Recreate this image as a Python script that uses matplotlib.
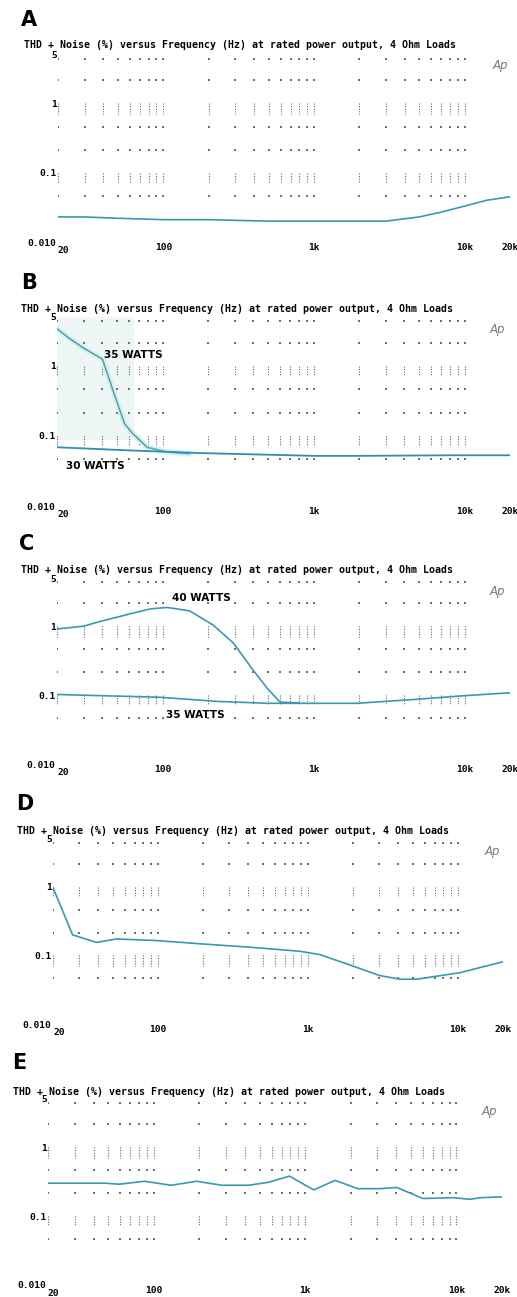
import matplotlib
matplotlib.use('Agg')
import matplotlib.pyplot as plt
import numpy as np

W, H = 517, 1297

title = "THD + Noise (%) versus Frequency (Hz) at rated power output, 4 Ohm Loads"

# curve data (Hz, % THD+N)
freq_a = [20, 30, 50, 100, 200, 500, 1000, 2000, 3000, 5000, 7000, 10000, 14000, 20000]
thd_a = [0.023, 0.023, 0.022, 0.021, 0.021, 0.020, 0.020, 0.020, 0.020, 0.023, 0.027, 0.033, 0.040, 0.045]

freq_b35 = [20, 24, 30, 40, 48, 56, 63, 79, 107, 150]
thd_b35 = [3.4, 2.5, 1.8, 1.25, 0.39, 0.15, 0.11, 0.069, 0.059, 0.056]
freq_b30 = [20, 63, 177, 500, 1000, 2000, 8000, 20000]
thd_b30 = [0.069, 0.062, 0.057, 0.054, 0.052, 0.052, 0.053, 0.053]

freq_c40 = [20, 30, 38, 64, 83, 107, 151, 216, 294, 398, 494, 600, 800]
thd_c40 = [0.91, 1.0, 1.16, 1.55, 1.78, 1.87, 1.67, 1.04, 0.57, 0.23, 0.125, 0.079, 0.077]
freq_c35 = [20, 96, 230, 494, 1000, 1940, 4860, 10000, 20000]
thd_c35 = [0.102, 0.093, 0.081, 0.076, 0.076, 0.076, 0.087, 0.098, 0.108]

freq_d = [20, 27, 39, 53, 98, 191, 410, 887, 1200, 2000, 3000, 4100, 5300, 10300, 20000]
thd_d = [0.98, 0.20, 0.155, 0.174, 0.165, 0.148, 0.132, 0.115, 0.103, 0.070, 0.051, 0.045, 0.045, 0.056, 0.081]

freq_e = [20, 31, 39, 48, 59, 87, 130, 192, 282, 423, 577, 787, 1140, 1580, 2230, 3130, 4040,
          6000, 9630, 12200, 14400, 20000]
thd_e = [0.30, 0.30, 0.30, 0.30, 0.29, 0.32, 0.28, 0.32, 0.28, 0.28, 0.31, 0.38, 0.24, 0.33, 0.25,
         0.25, 0.26, 0.18, 0.185, 0.175, 0.185, 0.19]

xticks = [20, 100, 1000, 10000, 20000]
xticklabels = ['20', '100', '1k', '10k', '20k']
yticks = [0.01, 0.1, 1, 5]
yticklabels = ['0.010', '0.1', '1', '5']

# pixel layout of each scanned panel
panels = {
    'A': dict(x0=58, x1=510, top=55, bot=242, letter=(21, 20), title=(24, 45), ap=(493, 66)),
    'B': dict(x0=57, x1=510, top=317, bot=506, letter=(21, 283), title=(21, 309), ap=(490, 329)),
    'C': dict(x0=57, x1=510, top=578, bot=764, letter=(19, 544), title=(21, 570), ap=(490, 591)),
    'D': dict(x0=53, x1=503, top=839, bot=1024, letter=(16, 804), title=(17, 831), ap=(485, 852)),
    'E': dict(x0=48, x1=502, top=1099, bot=1285, letter=(12, 1063), title=(13, 1092), ap=(482, 1111)),
}

curve_color = '#3a98b2'
mono = 'DejaVu Sans Mono'
narrow = ['Liberation Sans Narrow', 'DejaVu Sans']

fig = plt.figure(figsize=(W / 100, H / 100), dpi=100)
fig.patch.set_facecolor('white')


def make_axes(key, p):
    ax = fig.add_axes([p['x0'] / W, 1 - p['bot'] / H, (p['x1'] - p['x0']) / W, (p['bot'] - p['top']) / H])
    ax.set_xscale('log')
    ax.set_yscale('log')
    ax.set_xlim(20, 20000)
    ax.set_ylim(0.01, 5)
    for s in ax.spines.values():
        s.set_visible(False)
    ax.set_xticks(xticks)
    ax.set_xticklabels(xticklabels)
    ax.set_yticks(yticks)
    ax.set_yticklabels(yticklabels)
    ax.minorticks_off()
    ax.tick_params(length=0, pad=1, labelsize=6.8)
    ax.tick_params(axis='x', pad=1)
    for lab in ax.get_xticklabels() + ax.get_yticklabels():
        lab.set_family(mono)
        lab.set_weight('bold')
    ax.get_xticklabels()[0].set_ha('left')
    ax.get_xticklabels()[0].set_y(-0.015)

    # dotted analyzer grid
    cols = list(range(20, 100, 10)) + list(range(100, 1000, 100)) + list(range(1000, 11000, 1000))
    rows = [10 ** (-4 / 3), 10 ** (-2 / 3), 10 ** (-1 / 3), 10 ** (1 / 3), 10 ** (2 / 3) * 0.93]
    cx, cy = np.meshgrid(cols, rows)
    ax.scatter(cx.ravel(), cy.ravel(), s=1.2, marker='s', c='#707070', lw=0, zorder=1)
    for d in [0.1, 1]:
        for c in cols:
            ax.plot([c, c], [d, d * 10 ** (-0.15)], ls=(0, (1, 1.3)), color='#606060', lw=0.8, zorder=1)

    fig.text(p['letter'][0] / W, 1 - p['letter'][1] / H, key, family=narrow, weight='bold',
             fontsize=15, va='center', ha='left')
    fig.text(p['title'][0] / W, 1 - p['title'][1] / H, title, family=mono, weight='bold',
             fontsize=7.1, va='center', ha='left')
    fig.text(p['ap'][0] / W, 1 - p['ap'][1] / H, 'Ap', style='italic', color='#7a7a7a',
             fontsize=8.5, va='center', ha='left')
    return ax


for key, p in panels.items():
    ax = make_axes(key, p)
    if key == 'A':
        ax.plot(freq_a, thd_a, color=curve_color, lw=1.2, zorder=3)
    elif key == 'B':
        ax.fill_between([20, 64], [0.09, 0.09], [5, 5], color='#eef7f5', zorder=0)
        ax.plot(freq_b35, thd_b35, color='#d8eef1', lw=4, zorder=2)
        ax.plot(freq_b35, thd_b35, color='#4aa3ab', lw=1.1, zorder=3)
        ax.plot(freq_b30, thd_b30, color='#2f8fb0', lw=1.3, zorder=3)
        ax.text(64, 1.45, '35 WATTS', family=narrow, weight='bold', fontsize=7.5, ha='center', va='center')
        ax.text(36, 0.037, '30 WATTS', family=narrow, weight='bold', fontsize=7.5, ha='center', va='center')
    elif key == 'C':
        ax.plot(freq_c40, thd_c40, color=curve_color, lw=1.2, zorder=3)
        ax.plot(freq_c35, thd_c35, color=curve_color, lw=1.2, zorder=3)
        ax.text(180, 2.6, '40 WATTS', family=narrow, weight='bold', fontsize=7.5, ha='center', va='center')
        ax.text(165, 0.052, '35 WATTS', family=narrow, weight='bold', fontsize=7.5, ha='center', va='center')
    elif key == 'D':
        ax.plot(freq_d, thd_d, color=curve_color, lw=1.2, zorder=3)
    else:
        ax.plot(freq_e, thd_e, color=curve_color, lw=1.2, zorder=3)

fig.savefig('out.png', dpi=100, facecolor='white')
